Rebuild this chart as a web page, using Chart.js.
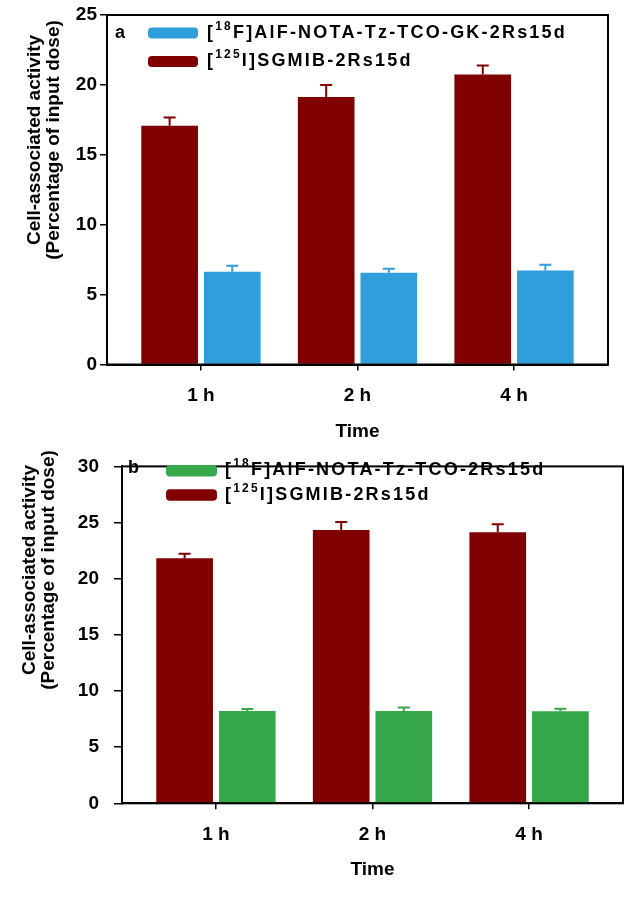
<!DOCTYPE html>
<html>
<head>
<meta charset="utf-8">
<title>Cell-associated activity</title>
<script src="https://cdn.jsdelivr.net/npm/chart.js@4.4.1/dist/chart.umd.min.js"></script>
<style>
  body { margin: 0; background: #fff; width: 631px; height: 900px; position: relative; overflow: hidden; }
  .panel { position: absolute; left: 0; width: 631px; }
  #panelA { top: 0; height: 450px; }
  #panelB { top: 440px; height: 460px; }
</style>
</head>
<body>
<div class="panel" id="panelA"><canvas id="chartA"></canvas></div>
<div class="panel" id="panelB"><canvas id="chartB"></canvas></div>
<script>
// ---- data ----
const timeLabels = ["1 h", "2 h", "4 h"];
const timePositions = [1, 2, 3];

// panel a
const sgmibLabelA = "[{125}I]SGMIB-2Rs15d";
const sgmibValuesA = [17.07, 19.13, 20.75];
const sgmibErrorsA = [0.6, 0.87, 0.64];
const alfLabelA = "[{18}F]AlF-NOTA-Tz-TCO-GK-2Rs15d";
const alfValuesA = [6.64, 6.57, 6.72];
const alfErrorsA = [0.42, 0.28, 0.42];
const yTicksA = [0, 5, 10, 15, 20, 25];

// panel b
const sgmibLabelB = "[{125}I]SGMIB-2Rs15d";
const sgmibValuesB = [21.83, 24.34, 24.14];
const sgmibErrorsB = [0.4, 0.71, 0.7];
const alfLabelB = "[{18}F]AlF-NOTA-Tz-TCO-2Rs15d";
const alfValuesB = [8.22, 8.22, 8.2];
const alfErrorsB = [0.17, 0.3, 0.22];
const yTicksB = [0, 5, 10, 15, 20, 25, 30];

const yTitleLines = ["Cell-associated activity", "(Percentage of input dose)"];
const xTitle = "Time";

const RED = "#800000";
const BLUE = "#2f9fdc";
const GREEN = "#36a84a";
const FONT = "'Liberation Sans', Arial, sans-serif";

/**
 * Split "[{18}F]..." into plain and superscript parts
 */
function labelParts(label) {
  return label.split(/(\{\d+\})/).filter(Boolean).map((p) =>
    p.startsWith("{") ? { text: p.slice(1, -1), sup: true } : { text: p, sup: false }
  );
}

// one-sided error bars in the bar colour
const errorBarPlugin = {
  id: "errorBars",
  afterDatasetsDraw(chart, args, opts) {
    const ctx = chart.ctx;
    const yScale = chart.scales.y;
    chart.data.datasets.forEach((ds, di) => {
      if (!ds.errors) return;
      const meta = chart.getDatasetMeta(di);
      ctx.save();
      ctx.strokeStyle = ds.backgroundColor;
      ctx.lineWidth = opts.lineWidth;
      meta.data.forEach((bar, i) => {
        const v = ds.data[i].y;
        const top = yScale.getPixelForValue(v);
        const end = yScale.getPixelForValue(v + ds.errors[i]);
        ctx.beginPath();
        ctx.moveTo(bar.x, top);
        ctx.lineTo(bar.x, end);
        ctx.moveTo(bar.x - opts.capWidth / 2, end);
        ctx.lineTo(bar.x + opts.capWidth / 2, end);
        ctx.stroke();
      });
      ctx.restore();
    });
  },
};

// closed box round the plot, y title, legend and panel letter
const decorPlugin = {
  id: "decor",
  afterDraw(chart, args, opts) {
    const ctx = chart.ctx;
    const a = chart.chartArea;
    ctx.save();
    ctx.strokeStyle = "#000";
    ctx.lineWidth = 2;
    ctx.strokeRect(a.left, a.top, a.right - a.left, a.bottom - a.top);

    // y title, rotated
    ctx.fillStyle = "#000";
    ctx.font = `bold ${opts.titleSize}px ${FONT}`;
    ctx.textAlign = "center";
    ctx.textBaseline = "middle";
    yTitleLines.forEach((line, i) => {
      ctx.save();
      ctx.translate(opts.titleX[i], opts.titleY);
      ctx.rotate(-Math.PI / 2);
      ctx.fillText(line, 0, 0);
      ctx.restore();
    });

    // panel letter
    ctx.textAlign = "left";
    ctx.font = `bold 18px ${FONT}`;
    ctx.fillText(opts.letter, opts.letterX, opts.letterY);

    // legend
    const lg = opts.legend;
    lg.order.forEach((di, row) => {
      const ds = chart.data.datasets[di];
      const cy = lg.y + row * lg.rowGap;
      ctx.fillStyle = ds.backgroundColor;
      ctx.beginPath();
      ctx.roundRect(lg.boxX, cy - lg.boxH / 2, lg.boxW, lg.boxH, 4);
      ctx.fill();

      ctx.fillStyle = "#000";
      ctx.textBaseline = "alphabetic";
      ctx.letterSpacing = lg.spacing + "px";
      let x = lg.textX;
      const base = cy + 4.5;
      labelParts(ds.label).forEach((p) => {
        ctx.font = p.sup ? `bold 12px ${FONT}` : `bold 18px ${FONT}`;
        ctx.fillText(p.text, x, p.sup ? base - 8 : base);
        x += ctx.measureText(p.text).width;
      });
      ctx.letterSpacing = "0px";
    });
    ctx.restore();
  },
};

function makeDataset(label, values, errors, color) {
  return {
    label: label,
    data: values.map((v, i) => ({ x: timePositions[i], y: v })),
    errors: errors,
    backgroundColor: color,
    borderWidth: 0,
    barPercentage: 0.905,
    categoryPercentage: 0.8,
  };
}

function makeChart(canvasId, datasets, yMax, yTicks, p) {
  const ctx = document.getElementById(canvasId).getContext("2d");
  const tickFont = { family: FONT, size: 19, weight: "bold" };
  return new Chart(ctx, {
    type: "bar",
    data: { datasets: datasets },
    plugins: [errorBarPlugin, decorPlugin],
    options: {
      responsive: true,
      maintainAspectRatio: false,
      animation: false,
      devicePixelRatio: 1,
      layout: { padding: p.padding },
      scales: {
        x: {
          type: "linear",
          offset: false,
          min: 0.4,
          max: 3.6,
          afterBuildTicks: (s) => { s.ticks = timePositions.map((v) => ({ value: v })); },
          afterFit: (s) => { s.height = p.xHeight; },
          ticks: {
            font: tickFont,
            color: "#000",
            padding: p.xTickPad,
            maxRotation: 0,
            callback: (v) => timeLabels[timePositions.indexOf(v)] || "",
          },
          grid: { offset: false, drawOnChartArea: false, drawTicks: true, tickLength: 6, color: "#000", lineWidth: 1.5 },
          border: { display: true, color: "#000", width: 2 },
          title: {
            display: true,
            text: xTitle,
            font: tickFont,
            color: "#000",
            padding: { top: 0, bottom: p.xTitlePad },
          },
        },
        y: {
          min: 0,
          max: yMax,
          afterBuildTicks: (s) => { s.ticks = yTicks.map((v) => ({ value: v })); },
          afterFit: (s) => { s.width = p.yWidth; },
          ticks: { font: tickFont, color: "#000", padding: p.yTickPad },
          grid: { drawOnChartArea: false, drawTicks: true, tickLength: p.yTickLen, color: "#000", lineWidth: 1.5 },
          border: { display: true, color: "#000", width: 2 },
        },
      },
      plugins: {
        legend: { display: false },
        tooltip: { enabled: false },
        errorBars: { lineWidth: 2, capWidth: 12 },
        decor: p.decor,
      },
    },
  });
}

makeChart(
  "chartA",
  [makeDataset(sgmibLabelA, sgmibValuesA, sgmibErrorsA, RED), makeDataset(alfLabelA, alfValuesA, alfErrorsA, BLUE)],
  25,
  yTicksA,
  {
    padding: { top: 15, right: 23, bottom: 0, left: 0 },
    xHeight: 85.5,
    yWidth: 107,
    xTickPad: 14,
    xTitlePad: 7,
    yTickPad: 3,
    yTickLen: 7,
    decor: {
      titleSize: 19,
      titleX: [35, 54],
      titleY: 140,
      letter: "a",
      letterX: 115,
      letterY: 33,
      legend: { order: [1, 0], boxX: 148, boxW: 50, boxH: 11, y: 33, rowGap: 28.5, textX: 207, spacing: 2.2 },
    },
  }
);

makeChart(
  "chartB",
  [makeDataset(sgmibLabelB, sgmibValuesB, sgmibErrorsB, RED), makeDataset(alfLabelB, alfValuesB, alfErrorsB, GREEN)],
  30,
  yTicksB,
  {
    padding: { top: 14, right: 8, bottom: 0, left: 0 },
    xHeight: 96.7,
    yWidth: 122,
    xTickPad: 14,
    xTitlePad: 18.6,
    yTickPad: 15,
    yTickLen: 8,
    decor: {
      titleSize: 19,
      titleX: [29.5, 48.5],
      titleY: 130,
      letter: "b",
      letterX: 128,
      letterY: 28.5,
      legend: { order: [1, 0], boxX: 166, boxW: 51, boxH: 11.5, y: 30.8, rowGap: 24.2, textX: 225, spacing: 2.2 },
    },
  }
);
</script>
</body>
</html>
